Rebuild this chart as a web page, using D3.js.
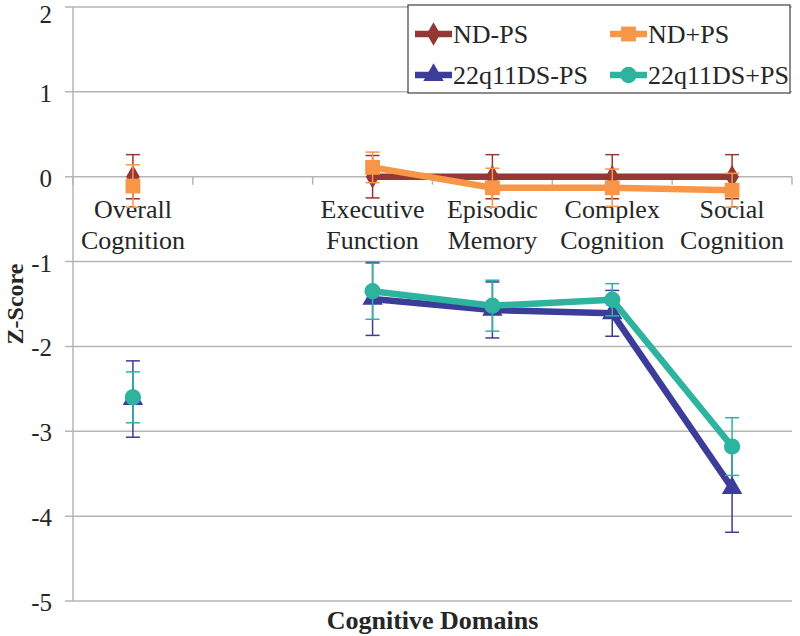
<!DOCTYPE html>
<html>
<head>
<meta charset="utf-8">
<script src="https://cdn.jsdelivr.net/npm/d3@7"></script>
<style>
  html, body { margin: 0; padding: 0; background: #fff; }
  svg { display: block; }
  text { font-family: "Liberation Serif", "Times New Roman", serif; fill: #262626; }
</style>
</head>
<body>
<svg id="chart" width="800" height="636"></svg>
<script>
// ---- data ----
const categories = ["Overall\nCognition", " ", "Executive\nFunction", "Episodic\nMemory", "Complex\nCognition", "Social\nCognition"];
const yTicks = [-5, -4, -3, -2, -1, 0, 1, 2];
const seriesNames = ["ND-PS", "ND+PS", "22q11DS-PS", "22q11DS+PS"];
const ndMinus      = [0,     null, 0,     0,     0,     0];
const ndMinusErr   = [0.26,  null, 0.25,  0.26,  0.26,  0.26];
const ndPlus       = [-0.11, null, 0.11, -0.13, -0.13, -0.16];
const ndPlusErr    = [0.25,  null, 0.18,  0.23,  0.22,  0.2];
const dsMinus      = [-2.62, null, -1.44, -1.57, -1.61, -3.67];
const dsMinusErr   = [0.45,  null, 0.43,  0.33,  0.27,  0.52];
const dsPlus       = [-2.6,  null, -1.35, -1.52, -1.45, -3.18];
const dsPlusErr    = [0.3,   null, 0.33,  0.3,   0.19,  0.34];

const colors = ["#953735", "#F79646", "#3C3D98", "#2DB39E"];
const symbols = [d3.symbolDiamond, d3.symbolSquare, d3.symbolTriangle, d3.symbolCircle];
const symSizes = [160, 220, 180, 210];

const series = [
  {name: seriesNames[0], values: ndMinus, errs: ndMinusErr},
  {name: seriesNames[1], values: ndPlus, errs: ndPlusErr},
  {name: seriesNames[2], values: dsMinus, errs: dsMinusErr},
  {name: seriesNames[3], values: dsPlus, errs: dsPlusErr}
];

// ---- layout ----
const svg = d3.select("#chart");
const pLeft = 73, pRight = 792, pTop = 7, pBottom = 601;
const x = d3.scaleBand().domain(categories).range([pLeft, pRight]).padding(0);
const y = d3.scaleLinear().domain([-5, 2]).range([pBottom, pTop]);
const gridColor = "#b5b5b5";

// gridlines
svg.append("g").selectAll("line").data(yTicks).join("line")
  .attr("x1", pLeft - 8).attr("x2", pRight)
  .attr("y1", d => y(d)).attr("y2", d => y(d))
  .attr("stroke", gridColor).attr("stroke-width", 1.5);

// y axis line
svg.append("line").attr("x1", pLeft).attr("x2", pLeft).attr("y1", pTop).attr("y2", pBottom)
  .attr("stroke", gridColor).attr("stroke-width", 1.5);

// y tick labels
svg.append("g").selectAll("text").data(yTicks).join("text")
  .attr("x", pLeft - 21).attr("y", d => Math.max(y(d) + 10, 23))
  .attr("text-anchor", "end").style("font-size", "25px")
  .text(d => d);

// category axis at 0
const bounds = categories.map(c => x(c)).concat([pRight]);
svg.append("g").selectAll("line").data(bounds).join("line")
  .attr("x1", d => d).attr("x2", d => d)
  .attr("y1", y(0)).attr("y2", y(0) + 8)
  .attr("stroke", gridColor).attr("stroke-width", 1.5);

// category labels
const catG = svg.append("g");
categories.forEach(c => {
  const lines = c.split("\n");
  const t = catG.append("text").attr("text-anchor", "middle").style("font-size", "26px");
  lines.forEach((ln, i) => {
    t.append("tspan").attr("x", x(c) + x.bandwidth() / 2).attr("y", 218 + i * 31).text(ln);
  });
});

// series
const cx = i => x(categories[i]) + x.bandwidth() / 2;
series.forEach((s, si) => {
  const g = svg.append("g");
  const pts = s.values.map((v, i) => ({i, v, e: s.errs[i]})).filter(p => p.v !== null);
  const line = d3.line().defined(d => d.v !== null).x(d => cx(d.i)).y(d => y(d.v));
  const lineData = s.values.map((v, i) => ({i, v}));
  g.append("path").datum(lineData).attr("d", line)
    .attr("fill", "none").attr("stroke", colors[si]).attr("stroke-width", 6.5)
    .attr("stroke-linejoin", "round");
  pts.forEach(p => {
    const xx = cx(p.i);
    g.append("line").attr("x1", xx).attr("x2", xx)
      .attr("y1", y(p.v + p.e)).attr("y2", y(p.v - p.e))
      .attr("stroke", colors[si]).attr("stroke-width", 1.5);
    [p.v + p.e, p.v - p.e].forEach(yy => {
      g.append("line").attr("x1", xx - 7).attr("x2", xx + 7)
        .attr("y1", y(yy)).attr("y2", y(yy))
        .attr("stroke", colors[si]).attr("stroke-width", 1.5);
    });
  });
  g.selectAll("path.m").data(pts).join("path").attr("class", "m")
    .attr("transform", p => `translate(${cx(p.i)},${y(p.v)})`)
    .attr("d", d3.symbol().type(symbols[si]).size(symSizes[si])())
    .attr("fill", colors[si]);
});

// axis titles
svg.append("text").attr("transform", `translate(23,${(pTop + pBottom) / 2}) rotate(-90)`)
  .attr("text-anchor", "middle").style("font-size", "24px").style("font-weight", "bold")
  .text("Z-Score");
svg.append("text").attr("x", (pLeft + pRight) / 2).attr("y", 629)
  .attr("text-anchor", "middle").style("font-size", "26px").style("font-weight", "bold")
  .text("Cognitive Domains");

// legend
const lg = svg.append("g");
lg.append("rect").attr("x", 408).attr("y", 5).attr("width", 382).attr("height", 88)
  .attr("fill", "#fff").attr("stroke", "#404040").attr("stroke-width", 1.2);
const legPos = [[415, 34], [610, 34], [415, 75], [610, 75]];
series.forEach((s, si) => {
  const [lx, ly] = legPos[si];
  lg.append("line").attr("x1", lx).attr("x2", lx + 37).attr("y1", ly).attr("y2", ly)
    .attr("stroke", colors[si]).attr("stroke-width", 6.5);
  lg.append("path").attr("transform", `translate(${lx + 18.5},${ly})`)
    .attr("d", d3.symbol().type(symbols[si]).size(symSizes[si])())
    .attr("fill", colors[si]);
  lg.append("text").attr("x", lx + 38).attr("y", ly + 8.5).style("font-size", "26px")
    .text(s.name);
});
</script>
</body>
</html>
